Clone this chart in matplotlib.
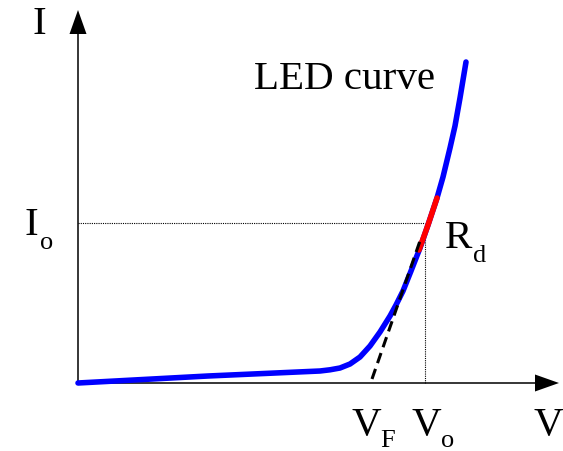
import numpy as np
import matplotlib.pyplot as plt

plt.rcParams['font.family'] = ['Liberation Serif', 'DejaVu Serif']

# LED I-V curve (arbitrary units, origin at the axes' crossing)
curve_v = [0, 130, 242, 252, 262, 272, 282, 292, 302, 312, 318, 325, 333,
           342, 350, 359, 365, 372, 377, 382, 388]
curve_i = [0, 7, 12, 13.2, 15, 19, 26, 37, 51, 67, 78, 92, 112,
           135, 158, 185, 206, 235, 257, 285, 321]

# dynamic resistance segment around the operating point
rd_v = [341, 350, 359]
rd_i = [133, 158, 185]

# tangent line (extrapolated to V_F)
tan_v = [294, 343]
tan_i = [4, 145]

# operating point
v_o = 347
i_o = 160

# axis extents
v_max = 481
i_max = 373

fig = plt.figure(figsize=(5.63, 4.51), dpi=100)
ax = fig.add_axes([0, 0, 1, 1])
ax.set_xlim(-78, 485)
ax.set_ylim(-68, 383)
ax.axis('off')

# axes with arrow heads
head_len = 24
head_w = 8.5
ax.plot([0, v_max - head_len], [0, 0], color='black', lw=1.1, zorder=2)
ax.plot([0, 0], [0, i_max - head_len], color='black', lw=1.1, zorder=2)
ax.fill([v_max - head_len, v_max, v_max - head_len], [-head_w, 0, head_w],
        color='black', lw=0, zorder=2)
ax.fill([-head_w, 0, head_w], [i_max - head_len, i_max, i_max - head_len],
        color='black', lw=0, zorder=2)

# dotted guides to the operating point
ax.plot([0, v_o], [i_o, i_o], color='black', lw=0.8, ls=(0, (1, 1)), zorder=1)
ax.plot([v_o, v_o], [0, i_o], color='black', lw=0.8, ls=(0, (1, 1)), zorder=1)

ax.plot(curve_v, curve_i, color='#0000ff', lw=4, solid_capstyle='round',
        solid_joinstyle='round', zorder=3)
ax.plot(rd_v, rd_i, color='#ff0000', lw=4, solid_capstyle='round', zorder=4)
ax.plot(tan_v, tan_i, color='black', lw=2.2, ls=(0, (3.5, 2)), zorder=5)

big = 29.5
small = 19
ax.text(-46, 349, 'I', fontsize=big)
ax.text(-53, 148, 'I', fontsize=big)
ax.text(-38, 134, 'o', fontsize=small)
ax.text(176, 294, 'LED curve', fontsize=big)
ax.text(367, 135, 'R', fontsize=big)
ax.text(395, 121, 'd', fontsize=small)
ax.text(274, -52, 'V', fontsize=big)
ax.text(302, -64, 'F', fontsize=small)
ax.text(334, -52, 'V', fontsize=big)
ax.text(363, -64, 'o', fontsize=small)
ax.text(456, -52, 'V', fontsize=big)

fig.savefig('out.png', dpi=100)
